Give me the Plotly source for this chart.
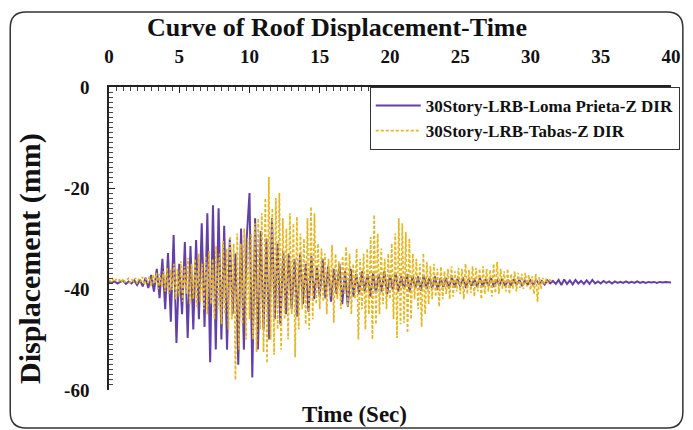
import numpy as np
import plotly.graph_objects as go

# ---- data ----
x_ticks = [0, 5, 10, 15, 20, 25, 30, 35, 40]
y_ticks = [-60, -40, -20, 0]
y_tick_text = ["-60", "-40", "-20", "0"]

loma_dt = 0.2
loma_disp = [
    -38.6, -38.8, -38.5, -38.9, -38.6,
    -38.4, -39.0, -38.5, -38.9, -38.3,
    -39.2, -38.2, -39.5, -37.8, -39.8,
    -37.2, -40.5, -36.0, -41.8, -34.0,
    -44.0, -32.9, -46.5, -29.3, -50.7,
    -35.0, -45.0, -30.7, -49.7, -31.5,
    -48.0, -30.3, -46.0, -27.0, -47.5,
    -25.0, -54.5, -23.4, -52.0, -24.0,
    -50.0, -27.5, -52.0, -30.0, -45.0,
    -33.0, -55.0, -28.0, -52.0, -30.0,
    -21.0, -57.5, -26.0, -52.0, -28.5,
    -48.0, -30.0, -50.0, -26.0, -46.0,
    -31.0, -47.0, -32.5, -45.0, -33.0,
    -44.0, -34.0, -45.5, -33.0, -43.0,
    -35.0, -44.5, -33.5, -42.0, -35.5,
    -41.5, -34.0, -41.8, -35.5, -42.5,
    -36.0, -41.0, -35.0, -43.0, -36.5,
    -43.5, -36.0, -41.5, -37.0, -41.0,
    -36.5, -40.5, -37.0, -41.5, -36.8,
    -40.8, -37.0, -40.5, -36.5, -41.0,
    -37.2, -40.2, -36.8, -40.5, -37.5,
    -40.0, -37.0, -40.6, -37.4, -39.8,
    -37.5, -40.3, -37.2, -40.0, -37.8,
    -39.8, -37.5, -40.2, -37.8, -39.6,
    -37.8, -39.9, -37.6, -39.7, -38.0,
    -39.5, -37.7, -39.8, -38.0, -39.4,
    -38.0, -39.6, -37.8, -39.5, -38.1,
    -39.4, -37.9, -39.6, -38.1, -39.3,
    -38.0, -39.4, -38.2, -39.3, -38.1,
    -39.2, -38.2, -39.4, -38.3, -39.1,
    -38.3, -39.2, -38.2, -39.0, -38.4,
    -39.1, -38.3, -38.9, -38.4, -39.0,
    -38.2, -39.2, -38.1, -39.0, -38.3,
    -39.1, -38.2, -38.9, -38.4, -39.0,
    -38.3, -39.0, -38.2, -38.9, -38.5,
    -38.9, -38.4, -38.8, -38.5, -38.9,
    -38.5, -38.8, -38.6, -38.8, -38.5,
    -38.8, -38.6, -38.8, -38.5, -38.8,
    -38.6, -38.8, -38.6, -38.7, -38.6,
    -38.8, -38.6, -38.7, -38.6, -38.7,
    -38.7,
]

tabas_dt = 0.125
tabas_disp = [
    -38.2, -38.5, -38.0, -38.6, -38.1, -38.4, -38.2, -38.7,
    -38.0, -38.6, -38.3, -37.9, -38.8, -38.2, -38.5, -37.8,
    -38.9, -38.0, -38.6, -37.6, -39.2, -37.9, -38.8, -37.5,
    -39.5, -37.2, -39.0, -36.8, -40.0, -37.0, -39.6, -36.5,
    -40.5, -35.8, -41.0, -36.2, -40.2, -35.0, -42.0, -36.0,
    -41.5, -34.5, -42.5, -35.5, -41.0, -33.8, -43.0, -35.0,
    -42.0, -34.0, -43.5, -33.0, -42.5, -35.0, -44.0, -33.5,
    -45.0, -32.5, -43.0, -34.0, -46.0, -31.5, -44.0, -33.0,
    -47.0, -30.5, -45.0, -32.0, -48.0, -29.5, -46.0, -31.0,
    -58.0, -29.0, -52.0, -31.0, -47.0, -28.0, -50.0, -30.0,
    -46.0, -29.0, -50.0, -27.0, -52.5, -26.0, -48.0, -25.0,
    -52.5, -22.0, -54.7, -17.8, -50.0, -24.0, -53.0, -22.0,
    -48.0, -21.0, -52.0, -26.0, -46.0, -28.0, -50.0, -25.0,
    -45.0, -27.0, -53.5, -25.7, -48.0, -29.0, -44.0, -30.0,
    -47.0, -26.0, -48.0, -23.7, -46.0, -25.0, -43.0, -31.0,
    -44.0, -32.0, -42.5, -33.0, -45.0, -34.0, -41.5, -31.3,
    -46.7, -33.0, -42.0, -34.5, -44.0, -33.5, -41.0, -31.6,
    -43.5, -33.0, -45.0, -35.0, -42.0, -32.0, -50.0, -34.0,
    -44.0, -33.0, -48.0, -32.0, -45.0, -29.7, -50.0, -25.3,
    -47.0, -29.0, -45.0, -32.0, -43.0, -34.0, -44.0, -33.0,
    -42.0, -31.0, -46.0, -29.0, -49.7, -26.0, -47.0, -27.0,
    -46.7, -28.7, -48.7, -30.0, -46.0, -33.0, -42.0, -34.0,
    -44.0, -35.0, -47.5, -32.9, -45.0, -34.6, -43.0, -35.5,
    -42.0, -35.0, -41.5, -36.0, -43.5, -35.6, -42.0, -36.5,
    -41.0, -36.0, -42.0, -35.5, -41.5, -36.5, -40.5, -35.8,
    -41.0, -36.0, -42.0, -35.0, -41.0, -36.2, -40.8, -35.5,
    -41.5, -35.8, -40.5, -36.0, -42.0, -35.5, -41.0, -36.0,
    -40.5, -36.2, -41.5, -35.0, -40.8, -34.6, -41.0, -36.0,
    -40.0, -36.5, -40.5, -36.0, -41.0, -37.0, -40.0, -36.5,
    -40.5, -36.8, -39.8, -37.0, -40.0, -36.8, -39.5, -37.2,
    -40.2, -37.5, -41.0, -37.0, -42.5, -37.6, -40.0, -37.8,
    -39.0, -38.0, -38.8, -38.2, -38.5,
]

loma_t = np.arange(len(loma_disp)) * loma_dt
tabas_t = np.arange(len(tabas_disp)) * tabas_dt

FONT = "Liberation Serif, Times New Roman, serif"
OFF = 8                      # page body margin of the html page
W, H = 693 - OFF, 430 - OFF
L = 109 - OFF
T = 87 - OFF
R = W - (678 - OFF)
B = H - (390 - OFF)
pw, ph = W - L - R, H - T - B


def px2paper(px, py):
    """reference-picture pixel -> paper coordinates"""
    px -= OFF
    py -= OFF
    return (px - L) / pw, (H - B - py) / ph


fig = go.Figure()
fig.add_trace(go.Scatter(
    x=loma_t, y=loma_disp, mode="lines",
    name="30Story-LRB-Loma Prieta-Z DIR",
    line=dict(color="#6240A8", width=2),
))
fig.add_trace(go.Scatter(
    x=tabas_t, y=tabas_disp, mode="lines",
    name="30Story-LRB-Tabas-Z DIR",
    line=dict(color="#E9B51C", width=1.7, dash="3px,2px"),
))

axis_font = dict(family=FONT, size=19, color="#111", weight="bold")

fig.update_xaxes(
    range=[0, 40], side="top", tickvals=x_ticks,
    showgrid=False, zeroline=False, showline=True, linecolor="#222", linewidth=1.5,
    ticks="inside", ticklen=6, tickcolor="#222", tickwidth=1,
    minor=dict(ticks="inside", ticklen=4, dtick=0.5, tickcolor="#444", tickwidth=1, showgrid=False),
    tickfont=axis_font, ticklabelstandoff=15,
)
fig.update_yaxes(
    range=[-60, 0], tickvals=y_ticks, ticktext=y_tick_text,
    showgrid=False, zeroline=False, showline=True, linecolor="#222", linewidth=1.5,
    ticks="inside", ticklen=6, tickcolor="#222", tickwidth=1,
    minor=dict(ticks="inside", ticklen=4, dtick=1, tickcolor="#444", tickwidth=1, showgrid=False),
    tickfont=axis_font, ticklabelstandoff=14,
)

annotations = []
tx, ty = px2paper(340, 28)
annotations.append(dict(text="Curve of Roof Displacement-Time", x=tx, y=ty, xref="paper", yref="paper",
                        showarrow=False, xanchor="center", yanchor="middle",
                        font=dict(family=FONT, size=26, color="#111", weight="bold")))
tx, ty = px2paper(358, 414)
annotations.append(dict(text="Time (Sec)", x=tx, y=ty, xref="paper", yref="paper",
                        showarrow=False, xanchor="center", yanchor="middle",
                        font=dict(family=FONT, size=23, color="#111", weight="bold")))
tx, ty = px2paper(29, 258)
annotations.append(dict(text="Displacement (mm)", x=tx, y=ty, xref="paper", yref="paper",
                        showarrow=False, xanchor="center", yanchor="middle", textangle=-90,
                        font=dict(family=FONT, size=30, color="#111", weight="bold")))

# rounded outer frame of the chart
x0, y0 = px2paper(9, 12)
x1, y1 = px2paper(690, 428)
rx, ry = 16 / pw, 16 / ph
path = (f"M {x0 + rx},{y0} L {x1 - rx},{y0} Q {x1},{y0} {x1},{y0 - ry} "
        f"L {x1},{y1 + ry} Q {x1},{y1} {x1 - rx},{y1} "
        f"L {x0 + rx},{y1} Q {x0},{y1} {x0},{y1 + ry} "
        f"L {x0},{y0 - ry} Q {x0},{y0} {x0 + rx},{y0} Z")

lx, ly = px2paper(373, 87)
fig.update_layout(
    width=W, height=H,
    margin=dict(l=L, r=R, t=T, b=B, pad=0),
    paper_bgcolor="white", plot_bgcolor="white",
    annotations=annotations,
    shapes=[dict(type="path", xref="paper", yref="paper", path=path,
                 line=dict(color="#333", width=1.5), layer="below")],
    legend=dict(x=lx, y=ly, xanchor="left", yanchor="top",
                bgcolor="white", bordercolor="#333", borderwidth=1,
                font=dict(family=FONT, size=17, color="#111", weight="bold"),
                itemwidth=45, tracegroupgap=0),
    showlegend=True,
)

fig.write_html("out.html")
